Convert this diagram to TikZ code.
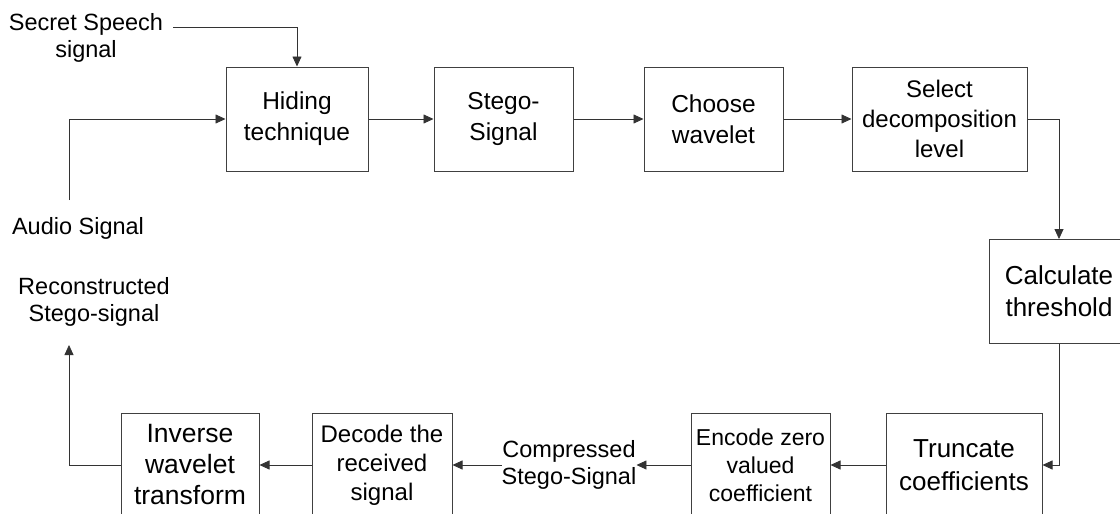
\documentclass[tikz,border=0pt]{standalone}
\usepackage{fontspec}
\setmainfont{Liberation Sans}
\usepackage{tikz}
\usetikzlibrary{positioning, arrows.meta}

\begin{document}
\begin{tikzpicture}[
        x=1pt, y=-1pt,
        font=\fontsize{24.5}{31}\selectfont,
        blk/.style={draw=black!75, line width=1pt, minimum width=#1, minimum height=104pt, inner sep=0pt, align=center},
        blk/.default=139pt,
        conn/.style={-{Triangle[length=10pt, width=9pt]}, line width=0.8pt, draw=black!80},
        lbl/.style={font=\fontsize{23.5}{27}\selectfont, inner sep=0pt, align=center},
    ]
    \clip (0,0) rectangle (1120,514);

    % Top row
    \node[blk=142pt] (hide) at (297,119) {Hiding\\technique};
    \node[blk, right=65pt of hide] (stego) {Stego-\\Signal};
    \node[blk, right=70pt of stego] (choose) {Choose\\wavelet};
    \node[blk=175pt, right=68pt of choose, font=\fontsize{24}{30}\selectfont] (select) {Select\\decomposition\\level};

    % Right side
    \node[blk=140pt, font=\fontsize{26}{32}\selectfont] (calc) at (1059,291.5) {Calculate\\threshold};

    % Bottom row
    \node[blk=156pt, font=\fontsize{26}{33}\selectfont] (trunc) at (964,465) {Truncate\\coefficients};
    \node[blk, left=55pt of trunc, font=\fontsize{23}{28}\selectfont] (encode) {Encode zero\\valued\\coefficient};
    \node[lbl] (comp) at (569,465) {Compressed\\Stego-Signal};
    \node[blk=140pt, font=\fontsize{24}{29}\selectfont] (decode) at (382,465) {Decode the\\received\\signal};
    \node[blk=138pt, left=52pt of decode, font=\fontsize{26.5}{31}\selectfont] (inverse) {Inverse\\wavelet\\transform};

    % Inputs and output
    \node[lbl] (secret) at (86,38) {Secret Speech\\signal};
    \node[lbl] (audio) at (78,228) {Audio Signal};
    \node[lbl] (recon) at (94,302) {Reconstructed\\Stego-signal};
    \coordinate (sp) at (173,27);
    \coordinate (au) at (69,200);
    \coordinate (out) at (69,345);

    % Connections
    \draw[conn] (sp) -| (hide.north);
    \draw[conn] (au) |- (hide.west);
    \draw[conn] (hide) -- (stego);
    \draw[conn] (stego) -- (choose);
    \draw[conn] (choose) -- (select);
    \draw[conn] (select.east) -| (calc.north);
    \draw[conn] (calc.south) |- (trunc.east);
    \draw[conn] (trunc) -- (encode);
    \draw[conn] (encode) -- (comp);
    \draw[conn] (comp) -- (decode);
    \draw[conn] (decode) -- (inverse);
    \draw[conn] (inverse.west) -| (out);
\end{tikzpicture}
\end{document}
